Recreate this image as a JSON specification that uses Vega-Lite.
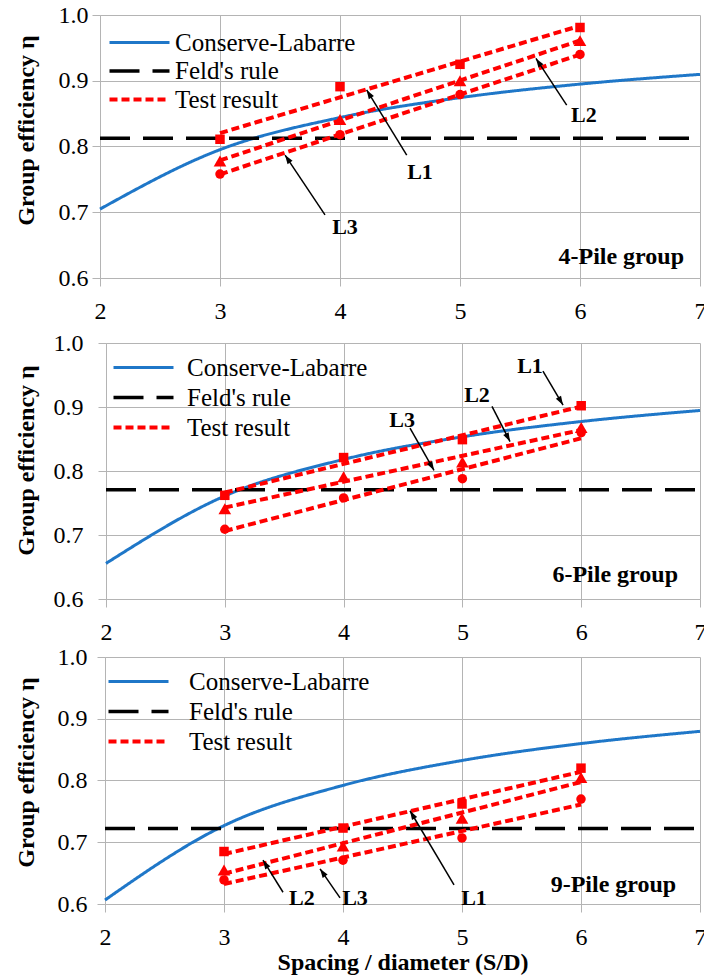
{
  "$schema": "https://vega.github.io/schema/vega-lite/v6.json",
  "background": "white",
  "padding": {"left": 14, "top": 3, "right": -2, "bottom": 2},
  "spacing": 1,
  "config": {
    "font": "Liberation Serif",
    "view": {"stroke": null},
    "style": {
      "guide-label": {"font": "Liberation Serif", "fontSize": 24, "fill": "black"},
      "guide-title": {"font": "Liberation Serif", "fontSize": 24, "fill": "black"}
    },
    "axis": {
      "gridColor": "#b4b4b4", "domainColor": "#b4b4b4", "tickColor": "#b4b4b4",
      "gridWidth": 1, "domainWidth": 1, "tickWidth": 1, "tickSize": 8,
      "labelFont": "Liberation Serif", "labelFontSize": 24, "labelColor": "black",
      "titleFont": "Liberation Serif", "titleFontSize": 24, "titleFontWeight": "bold", "titleColor": "black",
      "labelFlush": false, "labelOverlap": false
    },
    "legend": {
      "orient": "top-left", "padding": 0, "title": null,
      "symbolType": "M-3,0H3", "symbolSize": 400,
      "labelFont": "Liberation Serif", "labelFontSize": 25, "labelColor": "black",
      "symbolStrokeWidth": 3, "labelLimit": 400
    }
  },
  "datasets": {
    "curves": [
      {"p": 4, "kind": "Conserve-Labarre", "x": 2, "y": 0.7048},
      {"p": 4, "kind": "Conserve-Labarre", "x": 3, "y": 0.7952},
      {"p": 4, "kind": "Conserve-Labarre", "x": 4, "y": 0.8440},
      {"p": 4, "kind": "Conserve-Labarre", "x": 5, "y": 0.8743},
      {"p": 4, "kind": "Conserve-Labarre", "x": 6, "y": 0.8949},
      {"p": 4, "kind": "Conserve-Labarre", "x": 7, "y": 0.9097},
      {"p": 4, "kind": "Feld's rule", "x": 2, "y": 0.8125},
      {"p": 4, "kind": "Feld's rule", "x": 7, "y": 0.8125},
      {"p": 6, "kind": "Conserve-Labarre", "x": 2, "y": 0.6556},
      {"p": 6, "kind": "Conserve-Labarre", "x": 3, "y": 0.7610},
      {"p": 6, "kind": "Conserve-Labarre", "x": 4, "y": 0.8181},
      {"p": 6, "kind": "Conserve-Labarre", "x": 5, "y": 0.8534},
      {"p": 6, "kind": "Conserve-Labarre", "x": 6, "y": 0.8773},
      {"p": 6, "kind": "Conserve-Labarre", "x": 7, "y": 0.8946},
      {"p": 6, "kind": "Feld's rule", "x": 2, "y": 0.7708},
      {"p": 6, "kind": "Feld's rule", "x": 7, "y": 0.7708},
      {"p": 9, "kind": "Conserve-Labarre", "x": 2, "y": 0.6064},
      {"p": 9, "kind": "Conserve-Labarre", "x": 3, "y": 0.7269},
      {"p": 9, "kind": "Conserve-Labarre", "x": 4, "y": 0.7921},
      {"p": 9, "kind": "Conserve-Labarre", "x": 5, "y": 0.8324},
      {"p": 9, "kind": "Conserve-Labarre", "x": 6, "y": 0.8598},
      {"p": 9, "kind": "Conserve-Labarre", "x": 7, "y": 0.8796},
      {"p": 9, "kind": "Feld's rule", "x": 2, "y": 0.7222},
      {"p": 9, "kind": "Feld's rule", "x": 7, "y": 0.7222}
    ],
    "tests": [
      {"p": 4, "kind": "Test result", "line": "L1", "x": 3, "y": 0.811},
      {"p": 4, "kind": "Test result", "line": "L1", "x": 4, "y": 0.891},
      {"p": 4, "kind": "Test result", "line": "L1", "x": 5, "y": 0.925},
      {"p": 4, "kind": "Test result", "line": "L1", "x": 6, "y": 0.981},
      {"p": 4, "kind": "Test result", "line": "L2", "x": 3, "y": 0.778},
      {"p": 4, "kind": "Test result", "line": "L2", "x": 4, "y": 0.841},
      {"p": 4, "kind": "Test result", "line": "L2", "x": 5, "y": 0.900},
      {"p": 4, "kind": "Test result", "line": "L2", "x": 6, "y": 0.961},
      {"p": 4, "kind": "Test result", "line": "L3", "x": 3, "y": 0.758},
      {"p": 4, "kind": "Test result", "line": "L3", "x": 4, "y": 0.818},
      {"p": 4, "kind": "Test result", "line": "L3", "x": 5, "y": 0.879},
      {"p": 4, "kind": "Test result", "line": "L3", "x": 6, "y": 0.940},
      {"p": 6, "kind": "Test result", "line": "L1", "x": 3, "y": 0.762},
      {"p": 6, "kind": "Test result", "line": "L1", "x": 4, "y": 0.821},
      {"p": 6, "kind": "Test result", "line": "L1", "x": 5, "y": 0.849},
      {"p": 6, "kind": "Test result", "line": "L1", "x": 6, "y": 0.902},
      {"p": 6, "kind": "Test result", "line": "L2", "x": 3, "y": 0.741},
      {"p": 6, "kind": "Test result", "line": "L2", "x": 4, "y": 0.791},
      {"p": 6, "kind": "Test result", "line": "L2", "x": 5, "y": 0.814},
      {"p": 6, "kind": "Test result", "line": "L2", "x": 6, "y": 0.868},
      {"p": 6, "kind": "Test result", "line": "L3", "x": 3, "y": 0.709},
      {"p": 6, "kind": "Test result", "line": "L3", "x": 4, "y": 0.758},
      {"p": 6, "kind": "Test result", "line": "L3", "x": 5, "y": 0.788},
      {"p": 6, "kind": "Test result", "line": "L3", "x": 6, "y": 0.860},
      {"p": 9, "kind": "Test result", "line": "L1", "x": 3, "y": 0.685},
      {"p": 9, "kind": "Test result", "line": "L1", "x": 4, "y": 0.723},
      {"p": 9, "kind": "Test result", "line": "L1", "x": 5, "y": 0.762},
      {"p": 9, "kind": "Test result", "line": "L1", "x": 6, "y": 0.820},
      {"p": 9, "kind": "Test result", "line": "L2", "x": 3, "y": 0.655},
      {"p": 9, "kind": "Test result", "line": "L2", "x": 4, "y": 0.694},
      {"p": 9, "kind": "Test result", "line": "L2", "x": 5, "y": 0.739},
      {"p": 9, "kind": "Test result", "line": "L2", "x": 6, "y": 0.805},
      {"p": 9, "kind": "Test result", "line": "L3", "x": 3, "y": 0.639},
      {"p": 9, "kind": "Test result", "line": "L3", "x": 4, "y": 0.671},
      {"p": 9, "kind": "Test result", "line": "L3", "x": 5, "y": 0.707},
      {"p": 9, "kind": "Test result", "line": "L3", "x": 6, "y": 0.770}
    ],
    "notes": [
      {"p": 4, "label": "L1", "x1": 4.556, "y1": 0.787, "x2": 4.222, "y2": 0.886, "lx": 4.667, "ly": 0.761},
      {"p": 4, "label": "L2", "x1": 5.889, "y1": 0.863, "x2": 5.633, "y2": 0.934, "lx": 6.033, "ly": 0.848},
      {"p": 4, "label": "L3", "x1": 3.875, "y1": 0.696, "x2": 3.542, "y2": 0.787, "lx": 4.042, "ly": 0.678},
      {"p": 6, "label": "L1", "x1": 5.678, "y1": 0.956, "x2": 5.847, "y2": 0.903, "lx": 5.569, "ly": 0.964},
      {"p": 6, "label": "L2", "x1": 5.249, "y1": 0.901, "x2": 5.401, "y2": 0.846, "lx": 5.123, "ly": 0.918},
      {"p": 6, "label": "L3", "x1": 4.559, "y1": 0.867, "x2": 4.761, "y2": 0.801, "lx": 4.492, "ly": 0.879},
      {"p": 9, "label": "L1", "x1": 4.933, "y1": 0.631, "x2": 4.563, "y2": 0.751, "lx": 5.101, "ly": 0.610},
      {"p": 9, "label": "L2", "x1": 3.496, "y1": 0.619, "x2": 3.328, "y2": 0.671, "lx": 3.655, "ly": 0.610},
      {"p": 9, "label": "L3", "x1": 3.975, "y1": 0.610, "x2": 3.807, "y2": 0.657, "lx": 4.101, "ly": 0.610}
    ],
    "groups": [
      {"p": 4, "text": "4-Pile group", "x": 6.867, "y": 0.632},
      {"p": 6, "text": "6-Pile group", "x": 6.815, "y": 0.638},
      {"p": 9, "text": "9-Pile group", "x": 6.80, "y": 0.631}
    ]
  },
  "resolve": {"scale": {"color": "independent", "strokeDash": "independent", "strokeWidth": "independent", "shape": "independent", "size": "independent"}},
  "vconcat": [
    {
      "width": 600, "height": 263,
      "layer": [
        {
          "data": {"name": "curves"}, "transform": [{"filter": "datum.p == 4"}],
          "mark": {"type": "line", "interpolate": "monotone"},
          "encoding": {
            "x": {"field": "x", "type": "quantitative", "scale": {"domain": [2, 7], "nice": false}, "axis": {"values": [2, 3, 4, 5, 6, 7], "format": "d", "title": " ", "titleFontSize": 4, "titlePadding": 3, "labelPadding": 13}},
            "y": {"field": "y", "type": "quantitative", "scale": {"domain": [0.6, 1.0], "nice": false}, "axis": {"values": [0.6, 0.7, 0.8, 0.9, 1.0], "format": ".1f", "title": "Group efficiency η", "labelPadding": 4, "titlePadding": 20, "titleY": 115}},
            "color": {"field": "kind", "type": "nominal", "scale": {"domain": ["Conserve-Labarre", "Feld's rule", "Test result"], "range": ["#1f77c8", "#000000", "#ff0000"]}, "legend": {"offset": 15, "symbolOffset": 12, "labelOffset": 23, "rowPadding": 2.5}},
            "strokeDash": {"field": "kind", "type": "nominal", "scale": {"domain": ["Conserve-Labarre", "Feld's rule", "Test result"], "range": [[1, 0], [30, 13], [8, 4]]}, "legend": {"offset": 15, "symbolOffset": 12, "labelOffset": 23, "rowPadding": 2.5}},
            "strokeWidth": {"field": "kind", "type": "nominal", "scale": {"domain": ["Conserve-Labarre", "Feld's rule", "Test result"], "range": [3, 4, 2.5]}, "legend": {"offset": 15, "symbolOffset": 12, "labelOffset": 23, "rowPadding": 2.5}}
          }
        },
        {
          "data": {"name": "tests"}, "transform": [{"filter": "datum.p == 4"}, {"regression": "y", "on": "x", "groupby": ["line", "kind"]}],
          "mark": {"type": "line"},
          "encoding": {
            "x": {"field": "x", "type": "quantitative"},
            "y": {"field": "y", "type": "quantitative"},
            "detail": {"field": "line"},
            "color": {"field": "kind", "type": "nominal"},
            "strokeDash": {"field": "kind", "type": "nominal"},
            "strokeWidth": {"field": "kind", "type": "nominal"}
          }
        },
        {
          "data": {"name": "tests"}, "transform": [{"filter": "datum.p == 4"}],
          "mark": {"type": "point", "filled": true, "opacity": 1, "color": "#ff0000"},
          "encoding": {
            "x": {"field": "x", "type": "quantitative"},
            "y": {"field": "y", "type": "quantitative"},
            "shape": {"field": "line", "type": "nominal", "scale": {"domain": ["L1", "L2", "L3"], "range": ["square", "triangle-up", "circle"]}, "legend": null},
            "size": {"field": "line", "type": "nominal", "scale": {"type": "ordinal", "domain": ["L1", "L2", "L3"], "range": [90, 160, 90]}, "legend": null}
          }
        },
        {
          "data": {"name": "notes"}, "transform": [{"filter": "datum.p == 4"}],
          "mark": {"type": "rule", "color": "black", "strokeWidth": 1.5},
          "encoding": {
            "x": {"field": "x1", "type": "quantitative"}, "y": {"field": "y1", "type": "quantitative"},
            "x2": {"field": "x2"}, "y2": {"field": "y2"}
          }
        },
        {
          "data": {"name": "notes"}, "transform": [{"filter": "datum.p == 4"}, {"calculate": "atan2((datum.x2 - datum.x1) * 120, (datum.y2 - datum.y1) * 657) * 180 / PI", "as": "ang"}],
          "mark": {"type": "point", "shape": "M0,0L-1,3L1,3Z", "filled": true, "opacity": 1, "size": 36, "color": "black"},
          "encoding": {
            "x": {"field": "x2", "type": "quantitative"}, "y": {"field": "y2", "type": "quantitative"},
            "angle": {"field": "ang", "type": "quantitative", "scale": null}
          }
        },
        {
          "data": {"name": "notes"}, "transform": [{"filter": "datum.p == 4"}],
          "mark": {"type": "text", "font": "Liberation Serif", "fontSize": 22, "fontWeight": "bold", "color": "black", "align": "center", "baseline": "middle"},
          "encoding": {
            "x": {"field": "lx", "type": "quantitative"}, "y": {"field": "ly", "type": "quantitative"},
            "text": {"field": "label"}
          }
        },
        {
          "data": {"name": "groups"}, "transform": [{"filter": "datum.p == 4"}],
          "mark": {"type": "text", "font": "Liberation Serif", "fontSize": 24, "fontWeight": "bold", "color": "black", "align": "right", "baseline": "middle"},
          "encoding": {
            "x": {"field": "x", "type": "quantitative"}, "y": {"field": "y", "type": "quantitative"},
            "text": {"field": "text"}
          }
        }
      ]
    },
    {
      "width": 600, "height": 256,
      "layer": [
        {
          "data": {"name": "curves"}, "transform": [{"filter": "datum.p == 6"}],
          "mark": {"type": "line", "interpolate": "monotone"},
          "encoding": {
            "x": {"field": "x", "type": "quantitative", "scale": {"domain": [2, 7], "nice": false, "range": [6, 600]}, "axis": {"values": [2, 3, 4, 5, 6, 7], "format": "d", "title": null, "labelPadding": 13}},
            "y": {"field": "y", "type": "quantitative", "scale": {"domain": [0.6, 1.0], "nice": false}, "axis": {"values": [0.6, 0.7, 0.8, 0.9, 1.0], "format": ".1f", "title": "Group efficiency η", "offset": -6, "labelPadding": 15, "titlePadding": 15, "titleY": 117}},
            "color": {"field": "kind", "type": "nominal", "scale": {"domain": ["Conserve-Labarre", "Feld's rule", "Test result"], "range": ["#1f77c8", "#000000", "#ff0000"]}, "legend": {"offset": 12, "symbolOffset": 19, "labelOffset": 31, "rowPadding": 4}},
            "strokeDash": {"field": "kind", "type": "nominal", "scale": {"domain": ["Conserve-Labarre", "Feld's rule", "Test result"], "range": [[1, 0], [30, 13], [8, 4]]}, "legend": {"offset": 12, "symbolOffset": 19, "labelOffset": 31, "rowPadding": 4}},
            "strokeWidth": {"field": "kind", "type": "nominal", "scale": {"domain": ["Conserve-Labarre", "Feld's rule", "Test result"], "range": [3, 4, 2.5]}, "legend": {"offset": 12, "symbolOffset": 19, "labelOffset": 31, "rowPadding": 4}}
          }
        },
        {
          "data": {"name": "tests"}, "transform": [{"filter": "datum.p == 6"}, {"regression": "y", "on": "x", "groupby": ["line", "kind"]}],
          "mark": {"type": "line"},
          "encoding": {
            "x": {"field": "x", "type": "quantitative"},
            "y": {"field": "y", "type": "quantitative"},
            "detail": {"field": "line"},
            "color": {"field": "kind", "type": "nominal"},
            "strokeDash": {"field": "kind", "type": "nominal"},
            "strokeWidth": {"field": "kind", "type": "nominal"}
          }
        },
        {
          "data": {"name": "tests"}, "transform": [{"filter": "datum.p == 6"}],
          "mark": {"type": "point", "filled": true, "opacity": 1, "color": "#ff0000"},
          "encoding": {
            "x": {"field": "x", "type": "quantitative"},
            "y": {"field": "y", "type": "quantitative"},
            "shape": {"field": "line", "type": "nominal", "scale": {"domain": ["L1", "L2", "L3"], "range": ["square", "triangle-up", "circle"]}, "legend": null},
            "size": {"field": "line", "type": "nominal", "scale": {"type": "ordinal", "domain": ["L1", "L2", "L3"], "range": [90, 160, 90]}, "legend": null}
          }
        },
        {
          "data": {"name": "notes"}, "transform": [{"filter": "datum.p == 6"}],
          "mark": {"type": "rule", "color": "black", "strokeWidth": 1.5},
          "encoding": {
            "x": {"field": "x1", "type": "quantitative"}, "y": {"field": "y1", "type": "quantitative"},
            "x2": {"field": "x2"}, "y2": {"field": "y2"}
          }
        },
        {
          "data": {"name": "notes"}, "transform": [{"filter": "datum.p == 6"}, {"calculate": "atan2((datum.x2 - datum.x1) * 119, (datum.y2 - datum.y1) * 640) * 180 / PI", "as": "ang"}],
          "mark": {"type": "point", "shape": "M0,0L-1,3L1,3Z", "filled": true, "opacity": 1, "size": 36, "color": "black"},
          "encoding": {
            "x": {"field": "x2", "type": "quantitative"}, "y": {"field": "y2", "type": "quantitative"},
            "angle": {"field": "ang", "type": "quantitative", "scale": null}
          }
        },
        {
          "data": {"name": "notes"}, "transform": [{"filter": "datum.p == 6"}],
          "mark": {"type": "text", "font": "Liberation Serif", "fontSize": 22, "fontWeight": "bold", "color": "black", "align": "center", "baseline": "middle"},
          "encoding": {
            "x": {"field": "lx", "type": "quantitative"}, "y": {"field": "ly", "type": "quantitative"},
            "text": {"field": "label"}
          }
        },
        {
          "data": {"name": "groups"}, "transform": [{"filter": "datum.p == 6"}],
          "mark": {"type": "text", "font": "Liberation Serif", "fontSize": 24, "fontWeight": "bold", "color": "black", "align": "right", "baseline": "middle"},
          "encoding": {
            "x": {"field": "x", "type": "quantitative"}, "y": {"field": "y", "type": "quantitative"},
            "text": {"field": "text"}
          }
        }
      ]
    },
    {
      "width": 600, "height": 247,
      "layer": [
        {
          "data": {"name": "curves"}, "transform": [{"filter": "datum.p == 9"}],
          "mark": {"type": "line", "interpolate": "monotone"},
          "encoding": {
            "x": {"field": "x", "type": "quantitative", "scale": {"domain": [2, 7], "nice": false, "range": [5, 600]}, "axis": {"values": [2, 3, 4, 5, 6, 7], "format": "d", "title": "Spacing / diameter (S/D)", "labelPadding": 13, "titlePadding": 1}},
            "y": {"field": "y", "type": "quantitative", "scale": {"domain": [0.6, 1.0], "nice": false}, "axis": {"values": [0.6, 0.7, 0.8, 0.9, 1.0], "format": ".1f", "title": "Group efficiency η", "offset": -5, "labelPadding": 10, "titlePadding": 19, "titleY": 115}},
            "color": {"field": "kind", "type": "nominal", "scale": {"domain": ["Conserve-Labarre", "Feld's rule", "Test result"], "range": ["#1f77c8", "#000000", "#ff0000"]}, "legend": {"offset": 12, "symbolOffset": 14, "labelOffset": 38, "rowPadding": 4}},
            "strokeDash": {"field": "kind", "type": "nominal", "scale": {"domain": ["Conserve-Labarre", "Feld's rule", "Test result"], "range": [[1, 0], [30, 13], [8, 4]]}, "legend": {"offset": 12, "symbolOffset": 14, "labelOffset": 38, "rowPadding": 4}},
            "strokeWidth": {"field": "kind", "type": "nominal", "scale": {"domain": ["Conserve-Labarre", "Feld's rule", "Test result"], "range": [3, 4, 2.5]}, "legend": {"offset": 12, "symbolOffset": 14, "labelOffset": 38, "rowPadding": 4}}
          }
        },
        {
          "data": {"name": "tests"}, "transform": [{"filter": "datum.p == 9"}, {"regression": "y", "on": "x", "groupby": ["line", "kind"]}],
          "mark": {"type": "line"},
          "encoding": {
            "x": {"field": "x", "type": "quantitative"},
            "y": {"field": "y", "type": "quantitative"},
            "detail": {"field": "line"},
            "color": {"field": "kind", "type": "nominal"},
            "strokeDash": {"field": "kind", "type": "nominal"},
            "strokeWidth": {"field": "kind", "type": "nominal"}
          }
        },
        {
          "data": {"name": "tests"}, "transform": [{"filter": "datum.p == 9"}],
          "mark": {"type": "point", "filled": true, "opacity": 1, "color": "#ff0000"},
          "encoding": {
            "x": {"field": "x", "type": "quantitative"},
            "y": {"field": "y", "type": "quantitative"},
            "shape": {"field": "line", "type": "nominal", "scale": {"domain": ["L1", "L2", "L3"], "range": ["square", "triangle-up", "circle"]}, "legend": null},
            "size": {"field": "line", "type": "nominal", "scale": {"type": "ordinal", "domain": ["L1", "L2", "L3"], "range": [90, 160, 90]}, "legend": null}
          }
        },
        {
          "data": {"name": "notes"}, "transform": [{"filter": "datum.p == 9"}],
          "mark": {"type": "rule", "color": "black", "strokeWidth": 1.5},
          "encoding": {
            "x": {"field": "x1", "type": "quantitative"}, "y": {"field": "y1", "type": "quantitative"},
            "x2": {"field": "x2"}, "y2": {"field": "y2"}
          }
        },
        {
          "data": {"name": "notes"}, "transform": [{"filter": "datum.p == 9"}, {"calculate": "atan2((datum.x2 - datum.x1) * 119, (datum.y2 - datum.y1) * 617) * 180 / PI", "as": "ang"}],
          "mark": {"type": "point", "shape": "M0,0L-1,3L1,3Z", "filled": true, "opacity": 1, "size": 36, "color": "black"},
          "encoding": {
            "x": {"field": "x2", "type": "quantitative"}, "y": {"field": "y2", "type": "quantitative"},
            "angle": {"field": "ang", "type": "quantitative", "scale": null}
          }
        },
        {
          "data": {"name": "notes"}, "transform": [{"filter": "datum.p == 9"}],
          "mark": {"type": "text", "font": "Liberation Serif", "fontSize": 22, "fontWeight": "bold", "color": "black", "align": "center", "baseline": "middle"},
          "encoding": {
            "x": {"field": "lx", "type": "quantitative"}, "y": {"field": "ly", "type": "quantitative"},
            "text": {"field": "label"}
          }
        },
        {
          "data": {"name": "groups"}, "transform": [{"filter": "datum.p == 9"}],
          "mark": {"type": "text", "font": "Liberation Serif", "fontSize": 24, "fontWeight": "bold", "color": "black", "align": "right", "baseline": "middle"},
          "encoding": {
            "x": {"field": "x", "type": "quantitative"}, "y": {"field": "y", "type": "quantitative"},
            "text": {"field": "text"}
          }
        }
      ]
    }
  ]
}
